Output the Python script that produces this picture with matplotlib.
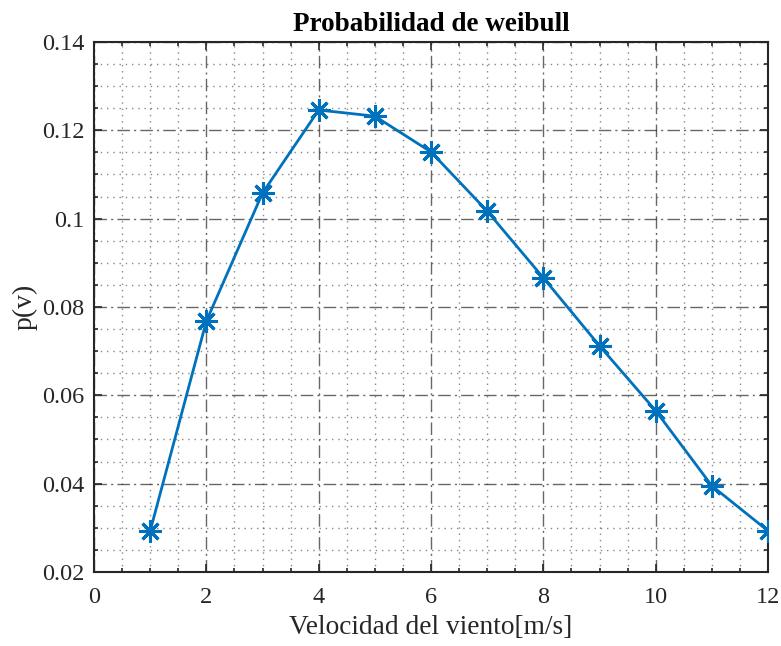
"""Weibull probability chart (MATLAB-style)."""

import matplotlib
matplotlib.use("Agg")
import matplotlib.pyplot as plt  # noqa: E402
from matplotlib.ticker import MultipleLocator  # noqa: E402

LINE_COLOR = "#0072BD"
AXIS_COLOR = "#262626"

velocidad = [1, 2, 3, 4, 5, 6, 7, 8, 9, 10, 11, 12]
probabilidad = [0.0293, 0.0768, 0.1058, 0.1246, 0.1232, 0.1151,
                0.1017, 0.0866, 0.0712, 0.0565, 0.0395, 0.0293]

x_ticks = [0, 2, 4, 6, 8, 10, 12]
y_ticks = [0.02, 0.04, 0.06, 0.08, 0.1, 0.12, 0.14]
y_labels = ["0.02", "0.04", "0.06", "0.08", "0.1", "0.12", "0.14"]

plt.rcParams["font.family"] = ["Liberation Serif", "DejaVu Serif"]

fig = plt.figure(figsize=(7.81, 6.46), dpi=100)
ax = fig.add_axes([0.1204, 0.1146, 0.8630, 0.8204])

ax.plot(velocidad, probabilidad, color=LINE_COLOR, linewidth=2,
        marker=(8, 2, 0), markersize=16, markeredgewidth=2.2, zorder=3)

ax.set_xlim(0, 12)
ax.set_ylim(0.02, 0.14)
ax.set_xticks(x_ticks)
ax.set_yticks(y_ticks)
ax.set_yticklabels(y_labels)
ax.xaxis.set_minor_locator(MultipleLocator(0.5))
ax.yaxis.set_minor_locator(MultipleLocator(0.005))

ax.grid(True, which="major", linestyle=(0, (9, 3, 1.5, 3)), color=AXIS_COLOR,
        linewidth=1.0, alpha=0.7)
ax.grid(True, which="minor", linestyle=(0, (1, 3.5)), color=AXIS_COLOR,
        linewidth=1.0, alpha=0.55)
ax.set_axisbelow(True)

ax.tick_params(which="both", direction="in", top=True, right=True,
               colors=AXIS_COLOR, labelsize=17.5)
ax.tick_params(which="major", length=6, width=1.2)
ax.tick_params(which="minor", length=3, width=1.2)
ax.tick_params(axis="x", pad=11)
ax.tick_params(axis="y", pad=7)
for spine in ax.spines.values():
    spine.set_color(AXIS_COLOR)
    spine.set_linewidth(1.5)

ax.set_xlabel("Velocidad del viento[m/s]", fontsize=19.7, color=AXIS_COLOR,
              labelpad=5)
ax.set_ylabel("p(v)", fontsize=20, color=AXIS_COLOR, labelpad=3)
ax.set_title("Probabilidad de weibull", fontsize=19.5, fontweight="bold",
             color="black", pad=8)

fig.savefig("out.png", facecolor="white")
plt.close(fig)
